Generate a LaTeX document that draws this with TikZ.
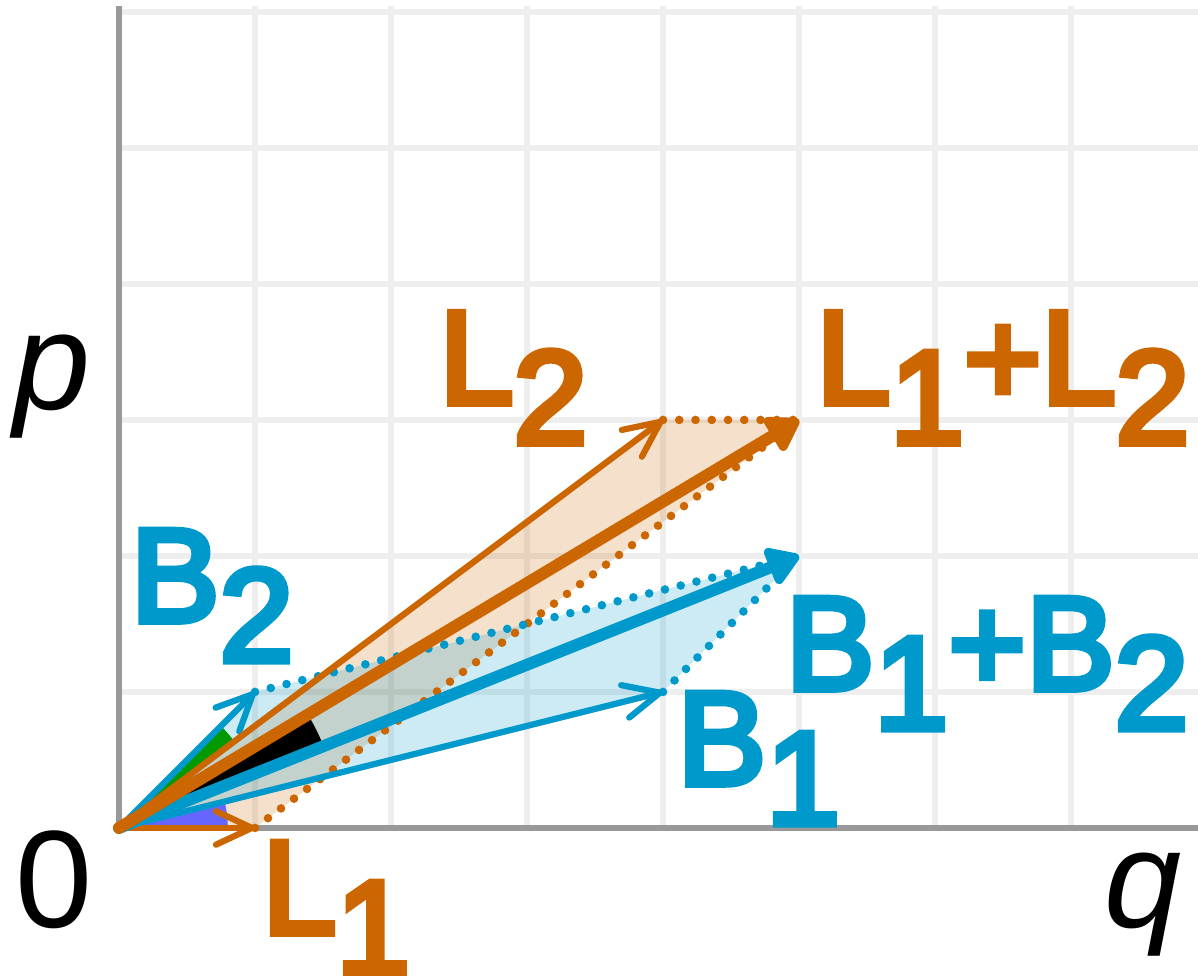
\documentclass[tikz,border=0pt]{standalone}
\usepackage{fontspec}
\setmainfont{Liberation Sans}
\newfontfamily\popisfont[FakeBold=5]{Liberation Sans}
\usetikzlibrary{arrows.meta}
\definecolor{oranz}{RGB}{204,102,0}
\definecolor{modra}{RGB}{0,153,204}
\definecolor{fialova}{RGB}{102,102,255}
\definecolor{zelena}{RGB}{0,153,0}
\definecolor{mrizka}{RGB}{238,238,238}
\definecolor{osaseda}{RGB}{153,153,153}
\tikzset{
  mriz/.style={draw=mrizka,line width=1.3pt},
  osa/.style={draw=osaseda,line width=1.4pt},
  sip/.style={-{Straight Barb[length=7.5pt,width=7pt,round]},line width=1.3pt,line cap=round},
  sipS/.style={-{Triangle[length=7.5pt,width=9pt,round]},line width=2.5pt,line cap=round},
  tecky/.style={line width=1.8pt,line cap=round,dash pattern=on 0pt off 3.4pt},
  popis/.style={anchor=base west,inner sep=0pt,font=\popisfont\fontsize{27.8}{30}\selectfont},
  osapopis/.style={anchor=base west,inner sep=0pt,font=\fontsize{29}{32}\selectfont},
}
\newcommand{\dolu}[1]{\raisebox{-0.3em}{#1}}

\begin{document}
\begin{tikzpicture}
  \useasboundingbox (-0.875,-1.088) rectangle (7.934,6.088);
  % mrizka a osy
  \foreach \x in {1,...,7} \draw[mriz] (\x,0) -- (\x,6.044);
  \foreach \y in {1,...,6} \draw[mriz] (0,\y) -- (7.934,\y);
  \draw[osa] (0,6.044) -- (0,0) -- (7.934,0);

  \coordinate (O) at (0,0);
  \coordinate (L1) at (1,0);
  \coordinate (L2) at (4,3);
  \coordinate (L12) at (5,3);
  \coordinate (B1) at (4,1);
  \coordinate (B2) at (1,1);
  \coordinate (B12) at (5,2);

  \fill[oranz,fill opacity=0.2] (O) -- (L1) -- (L12) -- (L2) -- cycle;
  \fill[modra,fill opacity=0.2] (O) -- (B1) -- (B12) -- (B2) -- cycle;

  % uhly
  \fill[fialova] (O) -- (0:0.8) arc[start angle=0,end angle={atan(1/4)},radius=0.8] -- cycle;
  \fill[zelena] (O) -- ({atan(3/4)}:1.06) arc[start angle={atan(3/4)},end angle=45,radius=1.06] -- cycle;
  \fill[black] (O) -- ({atan(2/5)}:1.62) arc[start angle={atan(2/5)},end angle={atan(3/5)},radius=1.62] -- cycle;

  \draw[tecky,oranz] (L1) -- (L12);
  \draw[tecky,oranz] (L2) -- (L12);
  \draw[tecky,modra] (B2) -- (B12);
  \draw[tecky,modra] (B1) -- (B12);

  \draw[sip,modra] (O) -- (B1);
  \draw[sip,modra] (O) -- (B2);
  \draw[sip,oranz] (O) -- (L1);
  \draw[sip,oranz] (O) -- (L2);
  \draw[sipS,modra] (O) -- (B12);
  \draw[sipS,oranz] (O) -- (L12);

  \node[popis,text=oranz] (tL2) at (2.35,3.12) {L\dolu{2}};
  \node[popis,text=oranz] (tL12) at (5.12,3.12) {L\dolu{1}+L\dolu{2}};
  \node[popis,text=modra] (tB2) at (0.08,1.518) {B\dolu{2}};
  \node[popis,text=modra] (tB12) at (4.896,1.018) {B\dolu{1}+B\dolu{2}};
  \node[popis,text=modra] (tB1) at (4.10,0.32) {B\dolu{1}};
  \node[popis,text=oranz] (tL1) at (1.046,-0.776) {L\dolu{1}};
  \node[osapopis] (tp) at (-0.78,3.08) {\itshape p};
  \node[osapopis] (tq) at (7.24,-0.73) {\itshape q};
  \node[osapopis] (t0) at (-0.77,-0.73) {0};
\end{tikzpicture}
\end{document}
